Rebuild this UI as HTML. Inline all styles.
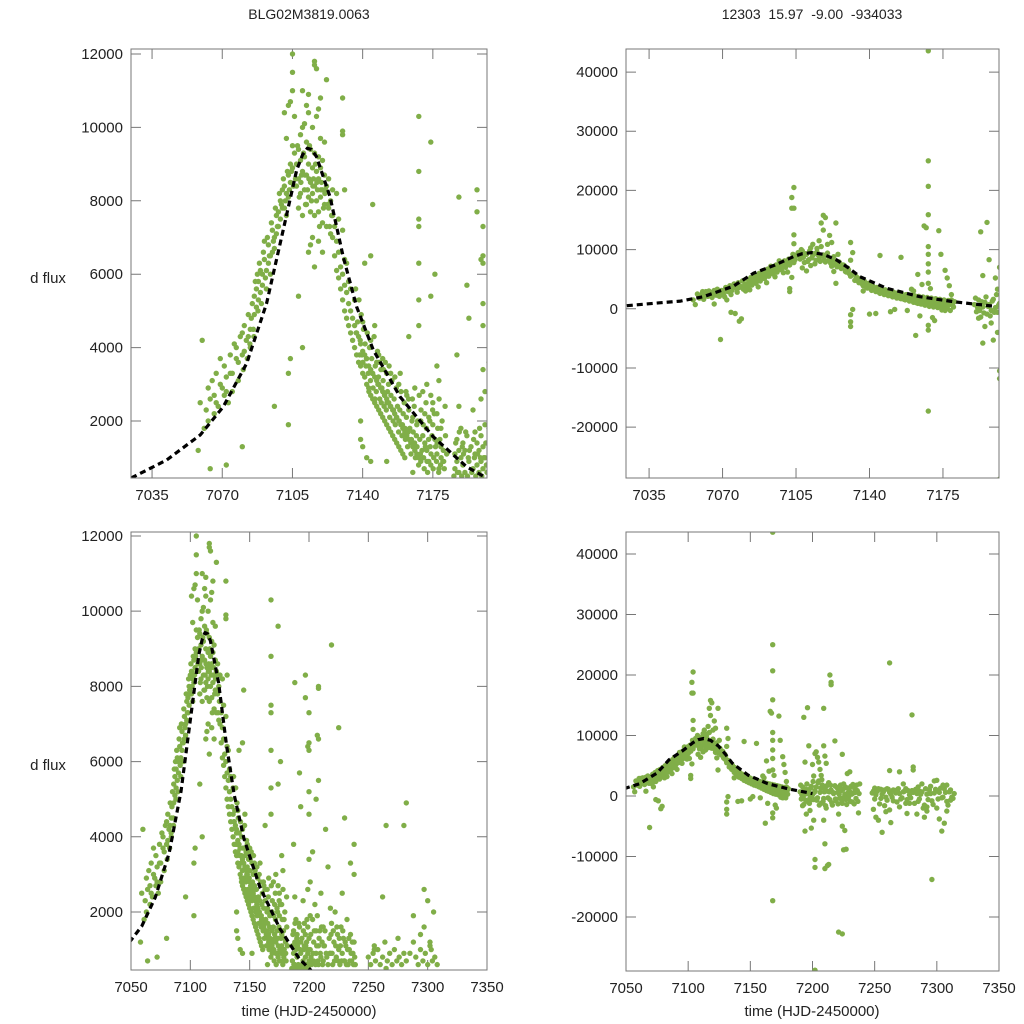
<!DOCTYPE html>
<html><head><meta charset="utf-8"><style>
html,body{margin:0;padding:0;background:#fff;}
svg{display:block;font-family:"Liberation Sans",sans-serif;}
</style></head><body>
<svg id="chart" width="1024" height="1024" viewBox="0 0 1024 1024">
<rect width="1024" height="1024" fill="#fff"/>
<text x="309" y="19" font-size="14" text-anchor="middle" fill="#222">BLG02M3819.0063</text>
<text x="812" y="19" font-size="14" text-anchor="middle" fill="#222" xml:space="preserve">12303  15.97  -9.00  -934033</text>
<text x="48" y="283" font-size="15" text-anchor="middle" fill="#222">d flux</text>
<text x="48" y="770" font-size="15" text-anchor="middle" fill="#222">d flux</text>
<text x="309" y="1016" font-size="15" text-anchor="middle" fill="#222">time (HJD-2450000)</text>
<text x="812" y="1016" font-size="15" text-anchor="middle" fill="#222">time (HJD-2450000)</text>
</svg>
<script>
// Dataset A (left panels): [time, flux]
const dataA = [
7058,1200,7059,2500,7060,4200,7061,1800,7062,2300,7063,2900,7064,2600,7065,3100,7066,2700,7067,3300,7068,2400,7069,3700,7070,2900,7071,3500,7072,3200,7073,2500,7074,3800,7075,3300,7076,4100,7077,3700,7078,3100,7079,4300,7080,3800,7081,4600,7082,4200,7083,4900,7084,4500,7085,5200,7086,4900,7087,5600,7088,5300,7089,6100,7090,5700,7091,6400,7092,6100,7093,6800,7094,6500,7095,7200,7096,7000,7097,7600,7098,7300,7099,8000,7100,7800,7101,8400,7102,8200,7103,8700,7104,8500,7105,8900,
7063,2000,7066,2200,7069,3000,7072,2800,7075,2800,7078,3600,7081,3900,7084,4000,7086,5400,7088,5800,7090,6000,7092,5600,7094,6000,7096,6700,7098,7700,7100,8300,7102,7600,7104,9000,7067,2500,7071,2700,7074,3300,7077,4000,7080,4400,7083,4300,7087,5100,7089,5500,7091,6900,7093,6300,7095,6600,7097,7100,7099,7500,7101,7800,7103,8100,
7064,700,7072,800,7080,1300,7096,2400,7103,1900,7103,3300,7104,3700,7105,11000,7105,12000,7105,11500,7106,10300,7103,10600,7104,10700,7101,10400,7102,9700,7106,9300,7105,9500,
7107,8400,7107,9000,7108,7800,7108,8600,7108,9400,7109,8200,7109,9100,7110,7600,7110,8800,7110,10000,7111,8300,7111,9200,7112,7900,7112,8700,7112,9600,7113,8100,7113,9000,7114,7700,7114,8500,7114,9400,7115,8200,7115,8900,7116,7600,7116,8400,7116,9300,7117,8000,7117,8800,7118,7700,7118,8600,7118,9200,7119,8100,7119,8900,7120,7400,7120,8300,7120,9100,7121,7900,7121,8700,7122,7300,7122,8400,7123,7800,7123,8600,7124,7100,7124,8000,7125,7600,7125,8300,7109,9800,7111,10100,7113,10400,7115,10000,7117,10300,7119,9700,7121,9600,7116,11800,7116,11700,7117,11600,7113,10900,7110,11000,7119,10800,7122,11300,7114,6800,7115,7000,7113,6600,7108,5400,7110,4000,7116,6200,7118,6900,7120,6600,7112,10600,7118,10500,
7125,7000,7126,7300,7126,6500,7127,6900,7127,6100,7128,6600,7128,5900,7129,6200,7129,5600,7130,6000,7130,5300,7131,5700,7131,5000,7132,5500,7132,4800,7133,5200,7133,4600,7134,5000,7134,4400,7135,4800,7135,4200,7136,4600,7136,4000,7137,4400,7137,3800,7138,4300,7138,3600,7139,4100,7139,3500,7140,3900,7140,3300,7141,3800,7141,3200,7142,3700,7142,3000,7143,3500,7143,2900,7144,3400,7144,2700,7145,3300,7145,2600,7146,3200,7146,2500,7147,3100,7147,2400,7148,3000,7148,2300,7149,2900,7149,2200,7150,2800,7150,2100,7151,2700,7151,2000,7152,2600,7152,1900,7153,2500,7153,1800,7154,2400,7154,1700,7155,2300,7155,1600,7156,2200,7156,1500,7157,2100,7157,1400,7158,2000,7158,1300,7159,1900,7159,1200,7160,1800,7160,1100,7161,1700,7161,1000,7162,1600,7163,1500,7164,1400,7165,1300,7166,1200,7167,1100,7168,1000,7169,900,7170,1600,7171,1400,7172,1200,7173,900,7174,800,7175,1900,7176,1500,7177,1100,7178,700,7179,1300,7180,900,7163,2300,7165,2100,7167,1900,7169,2000,7171,2200,7173,2100,7175,2500,7177,2200,7179,1800,7152,3300,7148,3800,7144,4200,7140,4700,7136,5300,7133,5800,7131,6400,7128,7500,7127,8200,7130,7200,7132,6300,7134,5600,7146,4600,7150,3700,7154,3300,7158,3000,7162,2700,7166,2900,7170,2800,7174,2700,7178,3100,
7130,10800,7130,9900,7130,9800,7131,8300,7145,7900,7144,6500,7141,6300,7147,3600,7163,4300,7168,7500,7168,10300,7168,8800,7168,7300,7168,4600,7168,6300,7168,5300,7174,9600,7176,6000,7177,3500,7172,3000,7174,5400,7188,8100,7187,3800,7192,5700,7193,4800,7199,6400,7200,7300,7200,6500,7200,6300,7200,5200,7200,4600,7200,3400,7139,1500,7140,1300,7144,900,7152,900,7142,1000,7139,2000,7165,600,
7186,1100,7186,700,7187,1500,7187,900,7188,1200,7188,600,7189,1800,7189,1000,7190,1400,7190,800,7191,1200,7191,600,7192,1600,7193,900,7194,1300,7195,700,7196,1100,7196,1700,7197,800,7197,1400,7198,1200,7198,600,7199,1600,7199,900,7200,1300,7200,700,7201,1900,7201,1000,7188,2400,7195,2300,7199,2600,7201,2800,
7203,1800,7204,1200,7204,700,7205,2200,7206,1500,7206,900,7207,1900,7208,1100,7208,600,7209,1500,7210,2500,7210,800,7211,1200,7212,1600,7212,700,7213,1100,7215,800,7217,1300,7218,900,7219,1700,7220,600,7221,1200,7222,2000,7223,800,7224,1400,7225,1000,7226,600,7227,1600,7228,900,7229,1300,7230,700,7231,1100,7232,1800,7233,600,7234,1000,7235,1400,7236,700,7237,900,7238,1200,7239,600,
7250,800,7252,600,7254,900,7256,700,7258,1000,7260,600,7262,800,7264,1200,7266,700,7268,900,7270,600,7272,1000,7274,700,7276,800,7278,600,7280,900,7282,700,7288,1200,7290,800,7292,600,7294,1000,7296,700,7298,900,7300,600,7302,1100,7304,700,7306,800,7308,600,7255,1000,7265,500,7275,1300,7285,900,7297,1600,7303,1000,
7197,8300,7197,7700,7208,7950,7208,8000,7207,6700,7208,6600,7219,9100,7225,6900,7206,5000,7208,5500,7203,3600,7214,4200,7216,3200,7230,4500,7235,3300,7238,3800,7238,3000,7262,2400,7265,4300,7280,4300,7282,4900,7288,1900,7294,1400,7297,2600,7300,2300,7305,2000,7302,1200,7255,1100,7218,2100,7228,2500
];
const dataA2 = [
7136.5,5600,7137.5,4700,7138.2,5300,7138.8,4200,7139.3,4900,7139.7,3800,7140.4,4500,7141.2,4100,7141.6,3500,7142.3,4400,7142.8,3300,7143.4,4000,7143.9,3100,7144.5,3700,7145.2,2900,7145.7,4300,7146.3,3500,7146.8,2800,7147.4,3900,7147.9,3200,7148.5,2600,7149.1,3400,7149.6,2900,7150.2,3100,7150.7,2400,7151.3,3600,7151.8,2300,7152.4,2800,7152.9,3000,7153.5,2100,7154.1,2700,7154.6,3100,7155.2,2000,7155.7,2600,7156.3,1900,7156.8,2900,7157.4,2400,7157.9,1700,7158.5,2300,7159.1,2800,7159.6,1600,7160.2,2200,7160.7,2500,7161.3,1500,7161.8,2100,7162.4,1300,7162.9,2600,7163.5,1800,7164.1,1100,7164.6,2000,7165.2,1700,7165.7,2400,7166.3,1000,7166.8,1600,7167.4,2000,7167.9,800,7168.5,1500,7169.1,2300,7169.6,1200,7170.2,1900,7170.7,700,7171.3,1300,7171.8,1800,7172.4,600,7172.9,1500,7173.5,2000,7174.1,1100,7174.6,1600,7175.2,700,7175.7,2200,7176.3,1300,7176.8,900,7177.4,1800,7177.9,600,7178.5,1500,7179.1,1000,7179.6,2000,7180.2,1200,7180.7,700,7181.3,1600,
7136.8,4400,7138.5,3800,7140.1,3600,7141.9,3700,7143.1,2800,7144.8,3300,7146.1,2600,7147.6,3000,7149.3,2500,7150.9,2700,7152.1,2500,7153.8,2400,7155.4,2300,7156.9,2100,7158.2,2000,7159.8,1900,7161.1,1800,7162.7,1700,7164.3,1500,7165.9,1400,7167.1,1300,7168.8,1100,7170.4,1000,7172.1,900,7173.7,1300,7175.4,1000,7177.1,1400,7178.8,800,7180.4,900,7181.9,1100,7148.3,3600,7150.4,3400,7153.2,3500,7156.1,3200,7158.7,3300,7161.6,2800,7164.8,2600,7168.2,2700,7171.6,2500,7174.9,2300,7178.1,2600,7181.1,2400,
7185.5,500,7186.4,1400,7187.3,600,7188.2,1700,7189.4,500,7190.3,1100,7191.4,1700,7192.3,500,7193.2,1200,7194.4,600,7195.3,1500,7196.4,500,7197.3,1100,7198.3,1800,7199.4,500,7200.4,1000,7201.4,1400,7202,600,7189.7,1300,7192.7,1000,7195.7,1000,7198.7,1000,7201.7,800,
7106.5,8600,7107.5,9500,7108.4,8100,7109.5,8700,7110.5,9300,7111.5,7900,7112.5,8300,7113.5,9500,7114.5,8000,7115.5,8600,7116.5,9000,7117.5,8300,7118.5,7300,7119.5,8500,7120.5,7800,7121.5,8300,7122.5,7900,7123.5,7300,7124.5,7600,7109.2,8500,7111.2,8700,7113.2,8600,7115.2,8400,7117.2,8500,7119.2,8300,7121.2,8200,
7080.5,3400,7082.5,3700,7084.5,4800,7085.5,4500,7086.5,5800,7087.5,6000,7088.5,6300,7089.5,5200,7090.5,6600,7091.5,5900,7092.5,7000,7093.5,6500,7094.5,7400,7095.5,6900,7096.5,7800,7097.5,7300,7098.5,8200,7099.5,7900,7100.5,8600,7101.5,8000,7102.5,8800,7103.5,8300,7104.5,8800,7105.5,8400,7083.8,4100,7085.8,4300,7087.8,5000,
7203.5,900,7204.5,1500,7205.5,600,7206.5,1100,7207.5,700,7208.5,1300,7209.5,900,7210.5,1600,7211.5,600,7212.5,1100,7213.5,1500,7214.5,900,7216,600,7217.5,900,7218.5,1400,7219.5,900,7220.5,1500,7221.5,700,7222.5,1100,7223.5,1600,7224.5,700,7225.5,1300,7226.5,1100,7227.5,700,7228.5,1500,7229.5,700,7230.5,1200,7231.5,600,7232.5,1000,7233.5,1300,7234.5,700,7235.5,900,7236.5,1200,7237.5,600,7238.5,800
];
// Dataset B (right panels): [time, flux]
const dataB = [
7056,1500,7057,700,7058,2500,7059,1800,7060,2400,7061,1600,7062,2900,7063,2100,7064,2600,7065,1900,7066,3100,7067,2300,7068,2800,7069,-5200,7070,2600,7071,3200,7072,1500,7073,3000,7074,2400,7075,3500,7076,-800,7077,2800,7078,3600,7079,-1700,7080,3300,7081,4100,7082,3700,7083,4500,7084,4000,7085,4800,7086,4300,7087,5200,7088,4700,7089,5600,7090,5100,7091,6000,7092,5500,7093,6300,7094,5900,7095,6700,7096,6200,7097,7100,7098,6600,7099,7500,7100,7000,7101,8000,7102,7400,7103,8500,7104,7800,7105,9000,7104,12500,7104,11000,7103,17000,7104,17000,7104,20500,7103,18800,7102,3400,7102,2900,7103,5300,7078,-2100,7074,-600,7066,800,7071,2000,7083,3200,7087,3700,7091,4400,7095,5400,7099,6100,7101,6200,7093,7200,7097,8100,7089,6400,7085,5600,7081,3000,7077,3400,
7106,9500,7107,8400,7108,9800,7109,7800,7110,9200,7111,8300,7112,10300,7113,9000,7114,7600,7115,9600,7116,8400,7117,10500,7118,9100,7119,7900,7120,9400,7121,8600,7122,7200,7123,8800,7124,8000,7125,9200,7108,6900,7110,6400,7112,7300,7116,11500,7117,14500,7118,13300,7118,15800,7119,15400,7121,12400,7122,11200,7124,14500,7120,10900,7123,6300,7124,4300,7113,10900,7115,10200,
7126,7600,7127,6900,7128,7300,7129,6200,7130,6600,7131,5500,7132,5900,7133,4800,7134,5300,7135,4400,7136,4800,7137,3900,7138,4400,7139,3500,7140,4000,7141,3100,7142,3600,7143,2900,7144,3300,7145,2600,7146,3100,7147,2400,7148,2900,7149,2200,7150,2700,7151,2000,7152,2500,7153,1800,7154,2300,7155,1700,7156,2100,7157,1500,7158,2000,7159,1300,7160,1800,7161,1100,7162,1600,7163,900,7164,1500,7165,800,7166,1300,7167,700,7168,1200,7169,600,7170,1100,7171,500,7172,1000,7173,400,7174,900,7175,300,7176,800,7177,200,7178,700,7179,1500,7180,300,
7131,11200,7132,9500,7131,8200,7131,-1000,7131,-2200,7131,-3000,7132,-100,7140,-900,7145,9000,7137,3000,7143,-800,7150,-500,7152,-100,7155,8700,7160,3300,7162,-4500,7165,4100,7166,14000,7167,13700,7168,25000,7168,20700,7168,15900,7168,10500,7168,9200,7168,7600,7168,6200,7168,4300,7168,-2800,7168,-3600,7168,-17300,7168,43600,7173,13200,7174,9200,7176,6500,7177,5200,7178,3900,7179,2400,7171,-2000,7164,-1200,7158,-300,7170,-1500,7176,-300,7163,5800,7161,3000,7169,3400,
7190,700,7191,-500,7192,1500,7193,-1400,7194,300,7195,1100,7196,-900,7197,700,7198,-300,7199,1600,7200,200,7201,-600,7202,900,7193,13000,7196,14600,7194,5600,7194,-5800,7197,8300,7198,-2400,7199,-5300,7200,5200,7201,3300,7202,7000,7202,-28800,7202,-10500,7202,-11800,7201,-4000,7195,-3000,7192,-1600,
7203,1500,7204,-300,7205,2500,7206,600,7207,-1200,7208,1800,7209,-400,7210,1200,7211,-2000,7212,800,7213,2200,7214,-600,7215,1000,7216,-1500,7217,400,7218,1700,7219,-800,7220,600,7221,1400,7222,-300,7223,900,7224,-1200,7225,2000,7226,300,7227,-600,7228,1300,7229,-200,7230,700,7231,1600,7232,-1000,7233,500,7234,1200,7235,-400,7236,900,7237,-2800,7238,2000,7203,7300,7204,6400,7205,5600,7206,4400,7207,3400,7209,-4000,7210,-7900,7210,-12000,7212,-11500,7213,-11300,7214,20000,7215,18800,7215,18400,7209,14500,7209,8300,7210,6600,7211,5400,7218,9100,7221,-22500,7224,-22800,7224,6900,7224,-5000,7226,-5700,7225,-8900,7227,-8800,7221,-3000,7228,3700,7230,4000,
7248,500,7250,-500,7252,800,7254,-1300,7256,300,7258,1000,7260,-700,7262,600,7264,-200,7266,900,7268,-1000,7270,400,7272,-300,7274,800,7276,-600,7278,200,7280,900,7282,-1200,7284,400,7286,-500,7288,700,7290,-1500,7292,300,7294,1000,7296,-800,7298,500,7300,-2000,7302,600,7304,-300,7306,1200,7308,-900,7310,700,7312,-200,7314,400,7249,-2200,7251,-3500,7253,-4000,7256,-6000,7259,-2600,7262,4200,7262,22000,7263,-4400,7270,4000,7273,2000,7276,-2900,7280,13400,7281,4800,7281,4300,7284,-3000,7288,2000,7290,-3500,7292,-2500,7296,-13800,7298,2500,7300,2600,7302,-3800,7304,-5800,7306,-4500,7308,1800,7270,-1800,7275,1200,7285,1500,7295,1600,7305,1800,7311,-700,7250,1300,7255,1100,7260,1200,7265,1000
];
const dataB2 = [
7060.5,2900,7061.5,2200,7062.5,2600,7063.5,3000,7064.5,2300,7065.5,2800,7066.5,2500,7067.5,3300,7068.5,2100,7069.5,3100,7070.5,2400,7071.5,3600,7072.5,2900,7073.5,3900,7074.5,3100,7075.5,4200,7076.5,3500,7077.5,4400,7078.5,3800,7079.5,4700,7080.5,4000,7081.5,5000,7082.5,4300,7083.5,5300,7084.5,4600,7085.5,5600,7086.5,5000,7087.5,6000,7088.5,5400,7089.5,6300,7090.5,5800,7091.5,6700,7092.5,6100,7093.5,7000,7094.5,6500,7095.5,7400,7096.5,6900,7097.5,7700,7098.5,7200,7099.5,8100,7100.5,7500,7101.5,8400,7102.5,7900,7103.5,9200,7104.5,8300,
7106.5,8900,7107.5,10000,7108.5,8700,7109.5,9300,7110.5,8000,7111.5,9800,7112.5,8600,7113.5,9300,7114.5,8200,7115.5,9100,7116.5,8000,7117.5,8900,7118.5,8200,7119.5,9000,7120.5,8100,7121.5,7700,7122.5,8300,7123.5,7500,7124.5,7100,7125.5,7900,7126.5,6800,7127.5,7400,7128.5,6300,7129.5,6900,7130.5,5900,7133.5,5500,7134.5,4700,7135.5,5100,7136.5,4200,7137.5,4700,7138.5,3700,7139.5,4300,7140.5,3400,7141.5,3900,7142.5,3100,7143.5,3600,7144.5,2800,7145.5,3400,7146.5,2600,7147.5,3200,7148.5,2400,7149.5,3000,7150.5,2200,7151.5,2800,7152.5,2000,7153.5,2700,7154.5,1800,7155.5,2500,7156.5,1600,7157.5,2400,7158.5,1500,7159.5,2300,7160.5,1300,7161.5,2200,7162.5,1000,7163.5,2100,7164.5,800,7165.5,2000,7166.5,600,7167.5,1900,7168.5,400,7169.5,1800,7170.5,300,7171.5,1700,7172.5,200,7173.5,1600,7174.5,-200,7175.5,1500,7176.5,0,7177.5,1400,7178.5,-300,7179.5,800,7180.5,1200,
7190.5,1800,7191.5,200,7192.5,-300,7193.5,1200,7194.5,-700,7195.5,2000,7196.5,400,7197.5,-1200,7198.5,1300,7199.5,-600,7200.5,2400,7201.5,600,
7203.5,-700,7204.5,2200,7205.5,-1500,7206.5,1300,7207.5,2700,7208.5,-900,7209.5,700,7210.5,-1600,7211.5,1700,7212.5,-300,7213.5,700,7214.5,1800,7215.5,-1100,7216.5,600,7218.5,-500,7219.5,1400,7220.5,-1300,7221.5,300,7222.5,1800,7223.5,-700,7224.5,1100,7225.5,-200,7226.5,1500,7227.5,-1400,7228.5,500,7229.5,1200,7230.5,-900,7231.5,300,7232.5,1900,7233.5,-1300,7234.5,600,7235.5,1800,7236.5,-900,7237.5,400,
7249,800,7251,200,7253,1200,7255,-400,7257,700,7259,-200,7261,1100,7263,300,7265,-800,7267,500,7269,1200,7271,-500,7273,700,7275,-1200,7277,900,7279,-300,7281,600,7283,1100,7285,-900,7287,300,7289,-2000,7291,1200,7293,-600,7295,400,7297,-1400,7299,1100,7301,-500,7303,1300,7305,-200,7307,600,7309,-1500,7311,1000,7313,-400,7258,-1600,7262,-2300,7268,1000,7278,-1200,7286,800,7292,-1800,7300,900,7308,-2500
];
// Model curves
const curveTA = [7024.6,7042.3,7059,7070.5,7082.2,7092.1,7100.4,7107.1,7110,7112.4,7114.5,7117,7123.7,7130.3,7137,7145.3,7158.6,7175.2,7191.8,7201.8];
const curveFA = [447,937,1619,2390,3572,5207,7204,8839,9250,9430,9400,9202,8112,6477,5114,3935,2662,1572,755,447];
const curveTB = [7024.4,7040,7050,7060.9,7075,7084.7,7095,7103.7,7108,7112.5,7118,7124.4,7130,7135.5,7148.2,7164,7180,7200];
const curveFB = [524,1000,1300,2040,3800,6000,7400,8800,9300,9500,9200,8240,6900,5420,3460,2040,1200,400];
// Ticks
const xTicksTop = [7035,7070,7105,7140,7175];
const xTicksBottom = [7050,7100,7150,7200,7250,7300,7350];
const yTicksLeft = [2000,4000,6000,8000,10000,12000];
const yTicksRight = [-20000,-10000,0,10000,20000,30000,40000];

const NS = 'http://www.w3.org/2000/svg';
const svg = document.getElementById('chart');
function mk(tag, attrs, parent){ const e=document.createElementNS(NS,tag); for(const k in attrs) e.setAttribute(k,attrs[k]); (parent||svg).appendChild(e); return e; }

const allA = dataA.concat(dataA2);
const allB = dataB.concat(dataB2);

const panels = [
 {id:'top-left', x0:131,x1:487,y0:49,y1:478, xmin:7024.5,xmax:7202, ymin:447,ymax:12136, data:allA, ct:curveTA, cf:curveFA, xt:xTicksTop, yt:yTicksLeft, cmax:7202},
 {id:'top-right', x0:626,x1:999,y0:49,y1:478, xmin:7024,xmax:7201.7, ymin:-28600,ymax:43900, data:allB, ct:curveTB, cf:curveFB, xt:xTicksTop, yt:yTicksRight, cmax:7210},
 {id:'bottom-left', x0:131,x1:487,y0:532,y1:970, xmin:7050,xmax:7350, ymin:457,ymax:12106, data:allA, ct:curveTA, cf:curveFA, xt:xTicksBottom, yt:yTicksLeft, cmax:7210},
 {id:'bottom-right', x0:626,x1:999,y0:532,y1:971, xmin:7050,xmax:7350, ymin:-28926,ymax:43636, data:allB, ct:curveTB, cf:curveFB, xt:xTicksBottom, yt:yTicksRight, cmax:7210}
];

panels.forEach((p,pi)=>{
  const sx = t => p.x0 + (t-p.xmin)/(p.xmax-p.xmin)*(p.x1-p.x0);
  const sy = f => p.y1 - (f-p.ymin)/(p.ymax-p.ymin)*(p.y1-p.y0);
  const g = mk('g',{});
  
  
  const cp = mk('clipPath',{id:'clip'+pi}, g);
  mk('rect',{x:p.x0,y:p.y0,width:p.x1-p.x0,height:p.y1-p.y0}, cp);
  p.xt.forEach(t=>{
    const x=sx(t);
    const tk = mk('path',{d:`M${x},${p.y1}v-10M${x},${p.y0}v10`,stroke:'#777','stroke-width':1}, g);
    
    
    const lb = mk('text',{x:x,y:p.y1+22,'font-size':15,'text-anchor':'middle',fill:'#222'}, g);
    lb.textContent = t;
    
    
  });
  p.yt.forEach(v=>{
    const y=sy(v);
    const tk = mk('path',{d:`M${p.x0},${y}h10M${p.x1},${y}h-10`,stroke:'#777','stroke-width':1}, g);
    
    
    const lb = mk('text',{x:p.x0-8,y:y+5,'font-size':15,'text-anchor':'end',fill:'#222'}, g);
    lb.textContent = v;
    
    
  });
  const pg = mk('g',{'clip-path':`url(#clip${pi})`, fill:'#80ae48'}, g);
  
  
  for(let i=0;i<p.data.length;i+=2){
    const c = mk('circle',{cx:sx(p.data[i]).toFixed(1),cy:sy(p.data[i+1]).toFixed(1),r:2.7}, pg);
    
    
  }
  let d='';
  p.ct.forEach((t,i)=>{ if(t<=p.cmax) d += (d?'L':'M')+sx(t).toFixed(1)+','+sy(p.cf[i]).toFixed(1); });
  const cv = mk('path',{d:d,fill:'none',stroke:'#000','stroke-width':3.2,'stroke-dasharray':'6,4','clip-path':`url(#clip${pi})`,'stroke-linejoin':'round'}, g);
  
  
  const fr = mk('rect',{x:p.x0,y:p.y0,width:p.x1-p.x0,height:p.y1-p.y0,fill:'none',stroke:'#777','stroke-width':1}, g);
  
  
});
</script>
</body></html>
